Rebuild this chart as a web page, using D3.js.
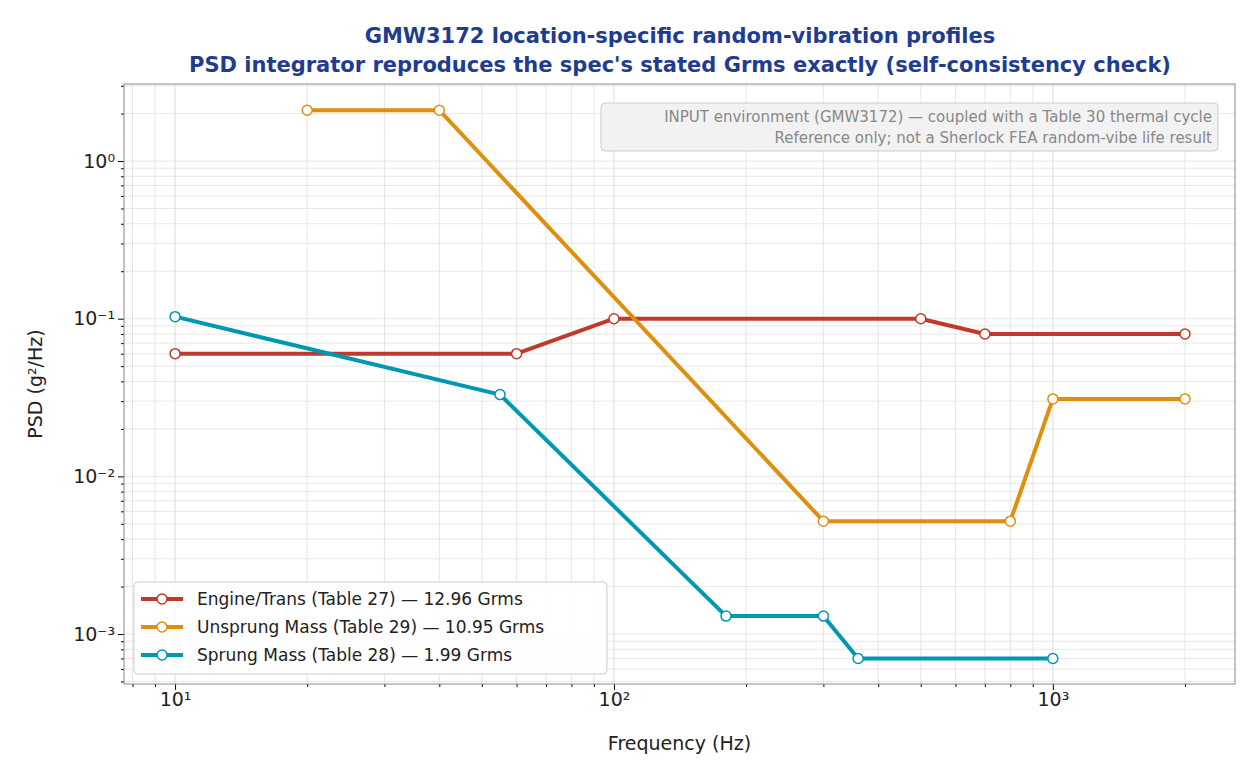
<!doctype html>
<html lang="en">
<head>
<meta charset="utf-8">
<title>GMW3172 PSD profiles</title>
<style>
  body { margin: 0; background: #fff; font-family: "DejaVu Sans", sans-serif; }
</style>
</head>
<body>
<svg id="chart" width="1260" height="780"></svg>
<script src="https://cdnjs.cloudflare.com/ajax/libs/d3/7.8.5/d3.min.js"></script>
<script>
// series data (Hz, g^2/Hz)
var engineFreq = [10, 60, 100, 500, 700, 2000];
var enginePsd = [0.06, 0.06, 0.1, 0.1, 0.08, 0.08];
var unsprungFreq = [20, 40, 300, 800, 1000, 2000];
var unsprungPsd = [2.1, 2.1, 0.0052, 0.0052, 0.031, 0.031];
var sprungFreq = [10, 55, 180, 300, 360, 1000];
var sprungPsd = [0.103, 0.033, 0.0013, 0.0013, 0.0007, 0.0007];
var seriesNames = ["Engine/Trans (Table 27) \u2014 12.96 Grms",
                   "Unsprung Mass (Table 29) \u2014 10.95 Grms",
                   "Sprung Mass (Table 28) \u2014 1.99 Grms"];
var seriesColors = ["#c0392b", "#e08e0e", "#0097b2"];

var series = [
  {name: seriesNames[0], color: seriesColors[0], x: engineFreq, y: enginePsd},
  {name: seriesNames[1], color: seriesColors[1], x: unsprungFreq, y: unsprungPsd},
  {name: seriesNames[2], color: seriesColors[2], x: sprungFreq, y: sprungPsd}
];

var svg = d3.select("#chart");
var L = 124, R = 1235, T = 84, B = 684;

var x = d3.scaleLog().domain([7.65, 2600]).range([L, R]);
var y = d3.scaleLog().domain([4.82e-4, 3.08]).range([B, T]);

// grid
var g = svg.append("g");
var xMinor = [], yMinor = [];
for (var d = 1; d <= 1000; d *= 10)
  for (var k = 1; k < 10; k++) { var v = d * k; if (v > 7.65 && v < 2600) xMinor.push(v); }
for (var e = -4; e <= 0; e++)
  for (var k2 = 1; k2 < 10; k2++) { var w = Math.pow(10, e) * k2; if (w > 4.82e-4 && w < 3.08) yMinor.push(w); }
g.selectAll(".xg").data(xMinor).enter().append("line")
  .attr("x1", d => x(d)).attr("x2", d => x(d)).attr("y1", T).attr("y2", B)
  .attr("stroke", "#ddd").attr("stroke-width", d => [10,100,1000].includes(d) ? 1 : 0.7);
g.selectAll(".yg").data(yMinor).enter().append("line")
  .attr("y1", d => y(d)).attr("y2", d => y(d)).attr("x1", L).attr("x2", R)
  .attr("stroke", "#ddd").attr("stroke-width", 0.7);

// axes
var fmt = function(d) {
  var p = Math.round(Math.log10(d));
  var sup = {"-":"\u207b","0":"\u2070","1":"\u00b9","2":"\u00b2","3":"\u00b3"};
  return "10" + String(p).split("").map(c => sup[c]).join("");
};
var xAx = svg.append("g").attr("transform", "translate(0," + B + ")")
  .call(d3.axisBottom(x).tickValues([10, 100, 1000]).tickFormat(fmt).tickSize(6));
svg.append("g").attr("transform", "translate(0," + B + ")")
  .call(d3.axisBottom(x).tickValues(xMinor.filter(v => ![10,100,1000].includes(v))).tickFormat("").tickSize(3));
var yAx = svg.append("g").attr("transform", "translate(" + L + ",0)")
  .call(d3.axisLeft(y).tickValues([1e-3, 1e-2, 1e-1, 1]).tickFormat(fmt).tickSize(6));
svg.append("g").attr("transform", "translate(" + L + ",0)")
  .call(d3.axisLeft(y).tickValues(yMinor.filter(v => Math.abs(Math.log10(v) - Math.round(Math.log10(v))) > 1e-6)).tickFormat("").tickSize(3));
svg.selectAll(".domain").remove();
svg.selectAll(".tick text").attr("font-size", 19).attr("fill", "#222").attr("font-family", "DejaVu Sans");
svg.append("rect").attr("x", L).attr("y", T).attr("width", R - L).attr("height", B - T)
  .attr("fill", "none").attr("stroke", "#888");

// lines
var line = d3.line().x(d => x(d[0])).y(d => y(d[1]));
series.forEach(function(s) {
  var pts = s.x.map((v, i) => [v, s.y[i]]);
  svg.append("path").attr("d", line(pts)).attr("fill", "none")
    .attr("stroke", s.color).attr("stroke-width", 4).attr("stroke-linejoin", "round");
  svg.selectAll(null).data(pts).enter().append("circle")
    .attr("cx", d => x(d[0])).attr("cy", d => y(d[1])).attr("r", 5)
    .attr("fill", "#fff").attr("stroke", s.color).attr("stroke-width", 1.5);
});

// titles
svg.append("text").attr("x", 680).attr("y", 43).attr("text-anchor", "middle")
  .attr("font-size", 21).attr("font-weight", "bold").attr("fill", "#1f3d8f")
  .text("GMW3172 location-specific random-vibration profiles");
svg.append("text").attr("x", 680).attr("y", 72).attr("text-anchor", "middle")
  .attr("font-size", 21).attr("font-weight", "bold").attr("fill", "#1f3d8f")
  .text("PSD integrator reproduces the spec's stated Grms exactly (self-consistency check)");
svg.append("text").attr("x", (L + R) / 2).attr("y", 750).attr("text-anchor", "middle")
  .attr("font-size", 19).attr("fill", "#222").text("Frequency (Hz)");
svg.append("text").attr("transform", "translate(42," + (T + B) / 2 + ") rotate(-90)")
  .attr("text-anchor", "middle").attr("font-size", 19).attr("fill", "#222").text("PSD (g\u00b2/Hz)");

// annotation box
svg.append("rect").attr("x", 601).attr("y", 103).attr("width", 617).attr("height", 48).attr("rx", 4)
  .attr("fill", "#f2f2f2").attr("stroke", "#ccc");
svg.append("text").attr("x", 1212).attr("y", 122).attr("text-anchor", "end").attr("font-size", 15)
  .attr("fill", "#888").text("INPUT environment (GMW3172) \u2014 coupled with a Table 30 thermal cycle");
svg.append("text").attr("x", 1212).attr("y", 143).attr("text-anchor", "end").attr("font-size", 15)
  .attr("fill", "#888").text("Reference only; not a Sherlock FEA random-vibe life result");

// legend
var lg = svg.append("g");
lg.append("rect").attr("x", 134).attr("y", 582).attr("width", 473).attr("height", 92).attr("rx", 4)
  .attr("fill", "#fff").attr("fill-opacity", 0.85).attr("stroke", "#ccc");
series.forEach(function(s, i) {
  var yy = 599 + i * 28;
  lg.append("line").attr("x1", 141).attr("x2", 183).attr("y1", yy).attr("y2", yy)
    .attr("stroke", s.color).attr("stroke-width", 4);
  lg.append("circle").attr("cx", 162).attr("cy", yy).attr("r", 5).attr("fill", "#fff")
    .attr("stroke", s.color).attr("stroke-width", 1.5);
  lg.append("text").attr("x", 197).attr("y", yy + 6).attr("font-size", 17).attr("fill", "#222").text(s.name);
});
</script>
</body>
</html>
